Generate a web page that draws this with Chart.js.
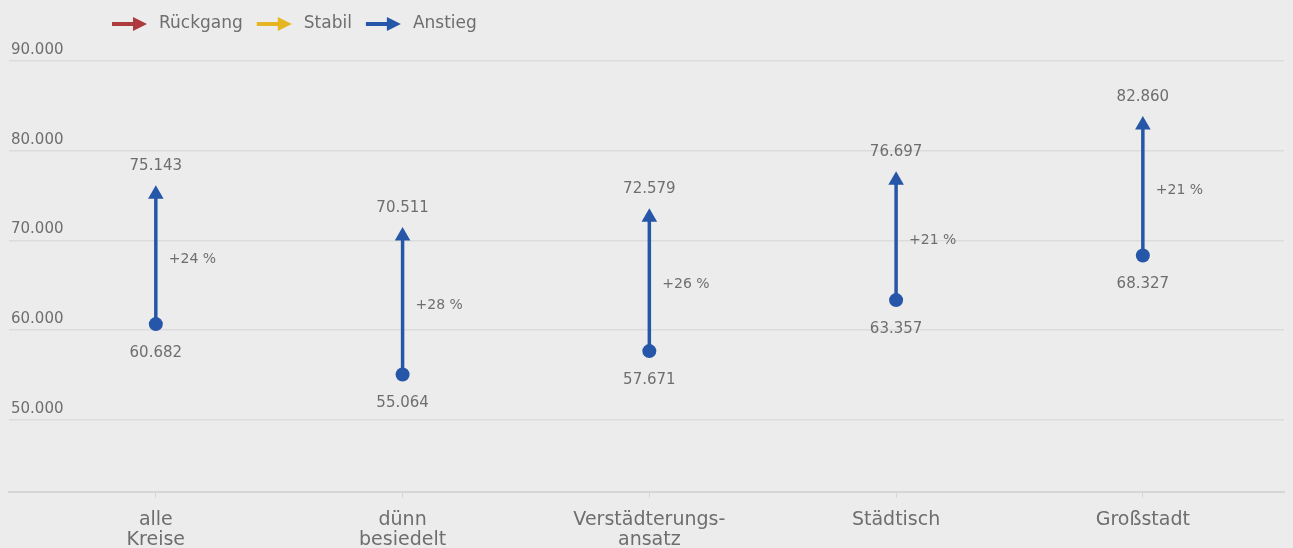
<!DOCTYPE html>
<html><head><meta charset="utf-8">
<script src="https://cdn.jsdelivr.net/npm/chart.js@4"></script>
<style>html,body{margin:0;padding:0;background:#ececec;overflow:hidden}#wrap{width:1293px;height:548px;position:relative}</style>
</head><body><div id="wrap"><canvas id="c"></canvas></div>
<script>
// ---- data ----
const categories = [["alle","Kreise"],["dünn","besiedelt"],["Verstädterungs-","ansatz"],"Städtisch","Großstadt"];
const startValues = [60682, 55064, 57671, 63357, 68327];
const endValues   = [75143, 70511, 72579, 76697, 82860];
const changeLabels = ["+24 %", "+28 %", "+26 %", "+21 %", "+21 %"];
const yTickValues = [50000, 60000, 70000, 80000, 90000];
const legendLabels = ["Rückgang", "Stabil", "Anstieg"];

// ---- styles ----
const FONT = '"DejaVu Sans", sans-serif';
const TEXT = '#6e6e6e';
const legendColors = ['#ad3a3c', '#e5b622', '#2656a8'];
const BLUE = legendColors[2];

function fmt(v){ return String(Math.round(v)).replace(/\B(?=(\d{3})+(?!\d))/g, '.'); }

const segData = [];
categories.forEach((c, i) => {
  segData.push({x: i, y: startValues[i]}, {x: i, y: endValues[i]}, {x: i, y: null});
});

const annot = {
  id: 'annot',
  afterDatasetsDraw(chart){
    const {ctx, scales: {x, y}} = chart;
    ctx.save();
    ctx.fillStyle = TEXT;
    ctx.textBaseline = 'middle';
    categories.forEach((c, i) => {
      const px = x.getPixelForValue(i);
      const ys = y.getPixelForValue(startValues[i]);
      const ye = y.getPixelForValue(endValues[i]);
      ctx.font = '15px ' + FONT;
      ctx.textAlign = 'center';
      ctx.fillText(fmt(endValues[i]), px, ye - 28);
      ctx.fillText(fmt(startValues[i]), px, ys + 29);
      ctx.font = '14px ' + FONT;
      ctx.textAlign = 'left';
      ctx.fillText(changeLabels[i], px + 13, (ys + ye) / 2);
    });
    // legend
    let lx = 112; const ly = 24;
    ctx.font = '17px ' + FONT;
    ctx.textAlign = 'left';
    legendLabels.forEach((lab, k) => {
      ctx.strokeStyle = legendColors[k]; ctx.fillStyle = legendColors[k];
      ctx.lineWidth = 4;
      ctx.beginPath(); ctx.moveTo(lx, ly); ctx.lineTo(lx + 24, ly); ctx.stroke();
      ctx.beginPath(); ctx.moveTo(lx + 35, ly); ctx.lineTo(lx + 21, ly - 7); ctx.lineTo(lx + 21, ly + 7); ctx.closePath(); ctx.fill();
      lx += 47;
      ctx.fillStyle = TEXT;
      ctx.fillText(lab, lx, ly);
      lx += ctx.measureText(lab).width + 14;
    });
    ctx.restore();
  }
};

new Chart(document.getElementById('c'), {
  type: 'line',
  data: {
    datasets: [
      { label: 'Anstieg', data: segData, borderColor: BLUE, borderWidth: 3.5, pointRadius: 0, spanGaps: false, order: 3 },
      { label: 'Start', data: startValues.map((v, i) => ({x: i, y: v})), showLine: false,
        pointStyle: 'circle', pointRadius: 7, backgroundColor: BLUE, borderColor: BLUE, borderWidth: 0, order: 1 },
      { label: 'Ende', data: endValues.map((v, i) => ({x: i, y: v})), showLine: false,
        pointStyle: 'triangle', pointRadius: 9, backgroundColor: BLUE, borderColor: BLUE, borderWidth: 0, order: 2 }
    ]
  },
  options: {
    animation: false, responsive: true, maintainAspectRatio: false,
    events: [],
    layout: { padding: { left: 3, right: -5, top: 61, bottom: -14 } },
    plugins: { legend: { display: false }, tooltip: { enabled: false } },
    scales: {
      x: {
        type: 'linear', min: -0.595, max: 4.572,
        afterBuildTicks: s => { s.ticks = categories.map((c, i) => ({value: i})); },
        ticks: { callback: v => categories[v], color: TEXT, font: { family: FONT, size: 19, lineHeight: 1.06 },
                 padding: 12, maxRotation: 0, autoSkip: false },
        grid: { drawOnChartArea: false, drawTicks: true, tickLength: 6, color: '#d6d6d6' },
        border: { display: true, color: '#d6d6d6', width: 2 }
      },
      y: {
        min: 42000, max: 90000,
        afterBuildTicks: s => { s.ticks = yTickValues.map(v => ({value: v})); },
        ticks: { mirror: true, padding: 2, labelOffset: -11, crossAlign: 'near', callback: v => fmt(v),
                 color: TEXT, font: { family: FONT, size: 15 } },
        grid: { color: '#dcdcdc', lineWidth: 1.5, drawTicks: false },
        border: { display: false }
      }
    }
  },
  plugins: [annot]
});
</script></body></html>
